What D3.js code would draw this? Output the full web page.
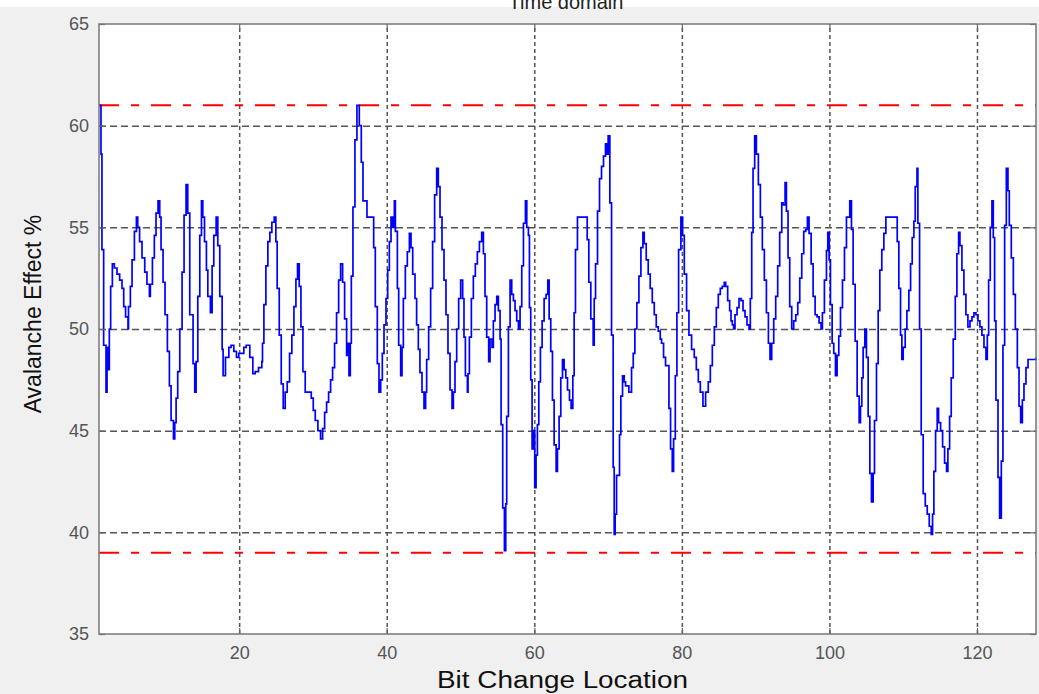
<!DOCTYPE html>
<html>
<head>
<meta charset="utf-8">
<script src="https://cdn.jsdelivr.net/npm/d3@7"></script>
<style>
  body { margin: 0; background: #f0f0f0; }
  svg { display: block; font-family: "Liberation Sans", Arial, sans-serif; }
</style>
</head>
<body>
<div id="chart"></div>
<script>
// Bit change location (x) and avalanche effect in % (y)
const bitLoc = [
  1, 1.27, 1.4, 1.63, 1.95, 2.09, 2.22, 2.4, 2.58, 2.81, 3.08, 3.44, 3.8, 4.12, 4.35, 4.6, 4.93, 5.0, 5.25, 5.48,
  5.8, 6.07, 6.25, 6.5, 6.83, 7.2, 7.5, 7.83, 7.96, 8.24, 8.5, 8.73, 9.0, 9.23, 9.41, 9.68, 9.95, 10.27, 10.54, 10.77,
  11.09, 11.27, 11.45, 11.67, 11.95, 12.26, 12.53, 12.8, 13.03, 13.3, 13.75, 13.98, 14.16, 14.39, 14.66, 14.89, 15.07, 15.3, 15.56, 15.75,
  16.1, 16.33, 16.56, 16.88, 17.1, 17.37, 17.69, 17.82, 18.14, 18.6, 18.9, 19.27, 19.63, 19.95, 20.63, 20.95, 21.44, 21.85,
  22.17, 22.62, 23.07, 23.16, 23.35, 23.62, 23.89, 24.16, 24.43, 24.75, 24.97, 25.15, 25.43, 25.7, 25.97, 26.24, 26.51, 26.83, 27.14, 27.42,
  27.69, 27.91, 28.14, 28.37, 28.64, 28.95, 29.32, 29.77, 30.04, 30.31, 30.67, 31.03, 31.31, 31.58, 31.85, 32.12, 32.39, 32.66, 32.93, 33.2,
  33.48, 33.75, 34.02, 34.29, 34.56, 34.74, 34.88, 35.06, 35.2, 35.42, 35.69, 35.96, 36.28, 36.55, 36.78, 37.32, 38.0, 38.23, 38.45, 38.72,
  38.95, 39.18, 39.4, 39.63, 39.9, 40.13, 40.35, 40.58, 40.8, 41.03, 41.17, 41.44, 41.62, 41.89, 42.07, 42.25, 42.52, 42.79, 43.07, 43.29, 43.52,
  43.6, 43.83, 44.05, 44.28, 44.5, 44.78, 45.05, 45.27, 45.41, 45.68, 45.95, 46.22, 46.49, 46.77, 46.99, 47.22, 47.49, 47.76, 48.03, 48.3,
  48.58, 48.85, 49.03, 49.25, 49.48, 49.75, 50.02, 50.29, 50.47, 50.66, 50.93, 51.02, 51.2, 51.47, 51.74, 52.01, 52.28, 52.56, 52.87, 53.1,
  53.32, 53.55, 53.82, 54.0, 54.27, 54.45, 54.68, 54.91, 55.13, 55.36, 55.5, 55.72, 55.95, 56.13, 56.26, 56.49, 56.72, 56.94, 57.17, 57.39,
  57.62, 57.85, 58.07, 58.3, 58.53, 58.8, 58.98, 59.2, 59.34, 59.52, 59.7, 59.88, 60.06, 60.24, 60.42, 60.61, 60.83, 61.06, 61.33, 61.6,
  61.83, 62.01, 62.23, 62.46, 62.69, 62.96, 63.14, 63.36, 63.59, 63.82, 64.04, 64.27, 64.5, 64.77, 64.99,
  65.22, 65.4, 65.58, 65.85, 67.03, 67.17, 67.39, 67.66, 67.98, 68.12, 68.3, 68.57, 68.84, 69.11, 69.38, 69.65, 69.83, 70.01, 70.24, 70.47,
  70.69, 70.83, 70.96, 71.15, 71.37, 71.55, 71.73, 71.96, 72.19, 72.37, 72.59, 72.82, 73.05, 73.18, 73.41, 73.63, 73.9, 74.18, 74.45, 74.72,
  74.9, 75.17, 75.44, 75.71, 75.99, 76.26, 76.53, 76.8, 77.07, 77.25, 77.52, 77.79, 78.25, 78.47, 78.7, 78.88, 79.11, 79.33, 79.56, 79.87,
  80.1, 80.33, 80.64, 80.96, 81.32, 81.68, 81.96, 82.23, 82.5, 82.86, 83.22, 83.58, 83.86, 84.13, 84.4, 84.67, 84.94, 85.21, 85.48, 85.75,
  85.94, 86.21, 86.48, 86.66,
  86.84, 87.02, 87.2, 87.48, 87.75, 88.02, 88.29, 88.56, 88.83, 89.1, 89.28, 89.47, 89.65, 89.87, 90.1, 90.37, 90.64, 90.91, 91.18, 91.46,
  91.73, 91.95, 92.18, 92.45, 92.72, 92.99, 93.26, 93.54, 93.72, 93.99, 94.17, 94.39, 94.62, 94.89, 95.16, 95.44, 95.71, 95.98, 96.25, 96.52,
  96.79, 97.02, 97.24, 97.52, 97.79, 98.06, 98.33, 98.6, 98.87, 99.05, 99.32, 99.6, 99.78, 99.96, 100.14, 100.37, 100.59, 100.82, 101.04, 101.27,
  101.5, 101.77, 102.04, 102.31, 102.58, 102.76, 102.99, 103.21, 103.49, 103.76, 104.03, 104.21, 104.39, 104.57, 104.8, 105.02, 105.25, 105.48, 105.7, 105.93,
  106.11, 106.38, 106.61, 106.83, 107.1, 107.38, 107.65,
  109.01, 109.19, 109.41, 109.64, 109.82, 110.0, 110.27, 110.5, 110.77, 111.0, 111.22, 111.45, 111.63, 111.87, 111.99, 112.22, 112.44, 112.71, 112.99, 113.26,
  113.53, 113.8, 113.98, 114.16, 114.39, 114.61, 114.79, 115.07, 115.34, 115.61, 115.88, 116.06, 116.29, 116.51, 116.78, 117.06, 117.28, 117.51, 117.69, 117.96,
  118.23, 118.5, 118.77, 119.05, 119.32, 119.59, 119.86, 120.13, 120.4, 120.67, 120.95, 121.22, 121.4, 121.58, 121.8, 122.03, 122.21, 122.39, 122.57, 122.85,
  123.07, 123.3, 123.52, 123.75, 123.98, 124.2, 124.38, 124.65, 124.93, 125.2, 125.47, 125.7, 125.92, 126.15, 126.37, 126.64, 126.92, 127.28, 128
]
const avalanche = [
  61, 58.6, 53.9, 49.2, 46.9, 49.1, 48.0, 50.0, 52.1, 53.2, 53.0, 52.7, 52.4, 52.0, 51.1, 50.6, 50.0, 51.1, 52.1, 53.4,
  54.8, 55.5, 55.0, 54.3, 53.5, 52.8, 52.2, 51.6, 52.2, 53.5, 54.6, 55.7, 56.3, 55.5, 53.9, 52.3, 50.7, 48.9, 47.2, 45.5,
  44.6, 45.4, 46.6, 47.9, 50.0, 52.8, 55.6, 57.1, 55.7, 50.7, 48.3, 46.9, 48.4, 51.6, 54.6, 56.3, 55.5, 54.3, 52.9, 51.6,
  50.8, 53.1, 54.6, 55.5, 54.1, 51.6, 49.0, 47.7, 48.6, 49.1, 49.2, 48.9, 48.6, 48.8, 49.1, 49.2, 48.6, 47.8,
  47.9, 48.1, 48.4, 49.3, 51.2, 53.1, 54.3, 54.75, 55.25, 55.5, 54.3, 52.0, 49.7, 47.3, 46.1, 46.9, 47.4, 48.8, 49.7, 51.1,
  52.45, 53.2, 52.1, 50.1, 47.9, 46.9, 46.9, 46.6, 46.0, 45.5, 45.0, 44.6, 45.1, 45.9, 46.4, 46.9, 47.5, 48.1, 49.3, 50.8,
  52.4, 53.2, 52.3, 50.5, 48.7, 49.3, 47.7, 49.3, 52.6, 56.0, 59.3, 61.0, 60.0, 58.2, 56.3, 55.5, 55.5, 54.0, 51.1, 48.3,
  46.9, 47.5, 48.8, 50.2, 51.5, 52.9, 54.3, 55.5, 55.0, 56.3, 54.8, 52.0, 49.2, 47.7, 49.1, 51.5, 53.1, 53.8, 54.7, 54.0, 52.7,
  52.7, 51.5, 50.2, 49.0, 47.85, 46.9, 46.1, 46.9, 48.5, 50.1, 52.0, 54.3, 56.6, 57.9, 57.0, 55.5, 53.9, 52.4, 50.7, 48.8,
  47.0, 46.1, 46.9, 48.4, 50.0, 51.5, 52.4, 51.5, 49.6, 47.7, 46.9, 47.8, 49.6, 51.5, 52.6, 53.2, 53.8, 54.3, 54.75, 53.7,
  51.6, 49.6, 48.4, 49.5, 49.1, 50.4, 51.2, 51.6, 50.9, 49.5, 45.3, 41.2, 39.1, 41.4, 45.7, 50.1, 52.4, 51.7, 51.4, 50.9,
  50.4, 50.0, 51.1, 53.1, 55.2, 56.3, 55.0, 54.6, 51.05, 47.5, 44.1, 45.0, 42.2, 43.8, 45.3, 47.4, 49.1, 50.4, 51.5, 51.7,
  52.4, 50.5, 48.9, 46.5, 44.3, 43.0, 44.1, 45.7, 47.6, 48.5, 48.0, 47.6, 47.0, 46.5, 46.1,
  47.7, 50.8, 53.9, 55.5, 55.5, 54.4, 52.3, 50.5, 49.2, 51.5, 53.2, 55.8, 57.4, 58.0, 58.5, 59.1, 58.6, 59.5, 56.2, 49.7,
  43.2, 39.9, 40.9, 42.8, 42.8, 44.8, 46.7, 47.7, 47.4, 47.2, 47.2, 46.9, 46.9, 48.1, 48.8, 50.0, 51.3, 52.6, 54.0, 54.75,
  54.2, 53.4, 52.7, 52.0, 51.3, 50.7, 50.1, 49.9, 49.5, 49.3, 48.6, 48.2, 46.1, 44.1, 43.0, 44.6, 47.7, 50.8, 53.9, 55.5,
  54.6, 52.7, 50.9, 49.7, 49.0, 48.6, 48.0, 47.4, 46.9, 46.2, 46.9, 47.4, 48.2, 49.2, 50.1, 51.05, 51.7, 52.0, 52.1, 52.3,
  52.1, 51.4, 50.9, 50.4,
  50.2, 50.0, 50.7, 51.05, 51.5, 51.4, 50.9, 50.6, 50.2, 50.0, 51.5, 54.75, 57.9, 59.5, 58.6, 57.1, 55.5, 53.9, 52.4, 50.8,
  49.3, 48.5, 49.3, 50.5, 51.6, 53.1, 54.75, 56.2, 56.1, 57.2, 55.8, 53.5, 51.1, 50.0, 50.4, 50.7, 51.3, 52.5, 53.7, 54.8,
  54.9, 55.5, 54.7, 53.2, 51.6, 50.7, 50.6, 50.3, 50.0, 50.8, 52.4, 53.85, 54.75, 53.4, 51.2, 49.3, 48.8, 47.7, 48.7, 49.65,
  51.05, 52.4, 54.0, 55.5, 55.5, 56.3, 54.9, 52.2, 49.4, 46.7, 45.4, 46.2, 47.6, 49.1, 50.0, 48.6, 45.7, 42.9, 41.5, 42.9,
  45.5, 48.3, 50.9, 52.9, 53.9, 54.7, 55.5,
  55.5, 54.3, 52.0, 49.7, 48.5, 49.1, 50.0, 50.9, 51.9, 53.2, 54.5, 55.3, 57.0, 57.9, 55.2, 50.0, 44.8, 41.9, 41.3, 40.9,
  40.3, 39.9, 40.9, 43.0, 45.0, 46.1, 45.4, 45.0, 44.2, 43.4, 43.0, 44.1, 45.7, 47.6, 49.5, 51.6, 53.7, 54.75, 54.1, 52.9,
  51.7, 50.7, 50.1, 50.4, 50.6, 50.8, 50.7, 50.4, 50.1, 49.7, 49.1, 48.5, 49.7, 52.4, 55.0, 56.3, 54.5, 50.4, 46.5, 42.7,
  40.7, 43.5, 49.2, 55.1, 57.9, 56.8, 55.1, 53.5, 51.7, 50.0, 48.1, 46.2, 45.4, 46.5, 47.3, 48.1, 48.5, 48.5, 48.6
]

const xTicks = [20, 40, 60, 80, 100, 120]
const yTicks = [35, 40, 45, 50, 55, 60, 65]
const limits = [61, 39]   // upper / lower bound lines

const W = 1039, H = 694
const margin = { top: 24, right: 3, bottom: 60, left: 99 }
const width = W - margin.left - margin.right,
      height = H - margin.top - margin.bottom

const svg = d3.select('#chart').append('svg')
    .attr('width', W)
    .attr('height', H)

svg.append('rect').attr('width', W).attr('height', H).attr('fill', '#f0f0f0')
svg.append('rect').attr('width', W).attr('height', 7).attr('fill', '#ffffff')

// titre coupé en haut
svg.append('text')
    .attr('x', 566).attr('y', 9)
    .attr('text-anchor', 'middle')
    .attr('font-size', 20)
    .attr('fill', '#222')
    .text('Time domain')

const g = svg.append('g')
    .attr('transform', 'translate(' + margin.left + ',' + margin.top + ')')

const x = d3.scaleLinear().domain([1, 128]).range([0, width])
const y = d3.scaleLinear().domain([35, 65]).range([height, 0])

g.append('rect').attr('width', width).attr('height', height).attr('fill', '#fff')

// grille
const gridX = g.append('g')
    .attr('transform', 'translate(0,' + height + ')')
    .call(d3.axisBottom(x).tickValues(xTicks).tickSize(-height).tickFormat(''))
gridX.select('.domain').remove()
gridX.selectAll('line').attr('stroke', '#555').attr('stroke-width', 1.5).attr('stroke-dasharray', '4,3')

const gridY = g.append('g')
    .call(d3.axisLeft(y).tickValues(yTicks.slice(1, -1)).tickSize(-width).tickFormat(''))
gridY.select('.domain').remove()
gridY.selectAll('line').attr('stroke', '#555').attr('stroke-width', 1.5).attr('stroke-dasharray', '7,4')

// limites
g.selectAll('.limit')
    .data(limits)
    .enter()
    .append('line')
    .attr('class', 'limit')
    .attr('x1', 0).attr('x2', width)
    .attr('y1', d => y(d)).attr('y2', d => y(d))
    .attr('stroke', '#ff0000')
    .attr('stroke-width', 2)
    .attr('stroke-dasharray', '20,12,8,12')

// courbe
const line = d3.line()
    .x(d => x(d[0]))
    .y(d => y(d[1]))
    .curve(d3.curveStepAfter)

g.append('path')
    .datum(d3.zip(bitLoc, avalanche))
    .attr('d', line)
    .attr('fill', 'none')
    .attr('stroke', '#0000ff')
    .attr('stroke-width', 1.7)

// axes
const styleAxis = sel => {
    sel.select('.domain').remove()
    sel.selectAll('line').attr('stroke', '#666').attr('stroke-width', 1.2)
    sel.selectAll('text').attr('fill', '#555').attr('font-size', 18)
        .attr('font-family', '"Liberation Sans", Arial, sans-serif')
}

g.append('g')
    .attr('transform', 'translate(0,' + height + ')')
    .call(d3.axisBottom(x).tickValues(xTicks).tickSizeInner(-6).tickSizeOuter(0).tickPadding(12))
    .call(styleAxis)

g.append('g')
    .call(d3.axisTop(x).tickValues(xTicks).tickSizeInner(-6).tickSizeOuter(0).tickFormat(''))
    .call(styleAxis)

g.append('g')
    .call(d3.axisLeft(y).tickValues(yTicks).tickSizeInner(-6).tickSizeOuter(0).tickPadding(10))
    .call(styleAxis)

g.append('g')
    .attr('transform', 'translate(' + width + ',0)')
    .call(d3.axisRight(y).tickValues(yTicks).tickSizeInner(-6).tickSizeOuter(0).tickFormat(''))
    .call(styleAxis)

g.append('rect')
    .attr('width', width).attr('height', height)
    .attr('fill', 'none')
    .attr('stroke', '#777')
    .attr('stroke-width', 1.5)

// titres des axes
svg.append('text')
    .attr('x', margin.left + width / 2 - 5)
    .attr('y', 688)
    .attr('text-anchor', 'middle')
    .attr('font-size', 23)
    .attr('fill', '#111')
    .attr('textLength', 251)
    .attr('lengthAdjust', 'spacingAndGlyphs')
    .text('Bit Change Location')

svg.append('text')
    .attr('transform', 'translate(41,' + (margin.top + height / 2 - 15) + ') rotate(-90)')
    .attr('text-anchor', 'middle')
    .attr('font-size', 23)
    .attr('fill', '#111')
    .text('Avalanche Effect %')
</script>
</body>
</html>
